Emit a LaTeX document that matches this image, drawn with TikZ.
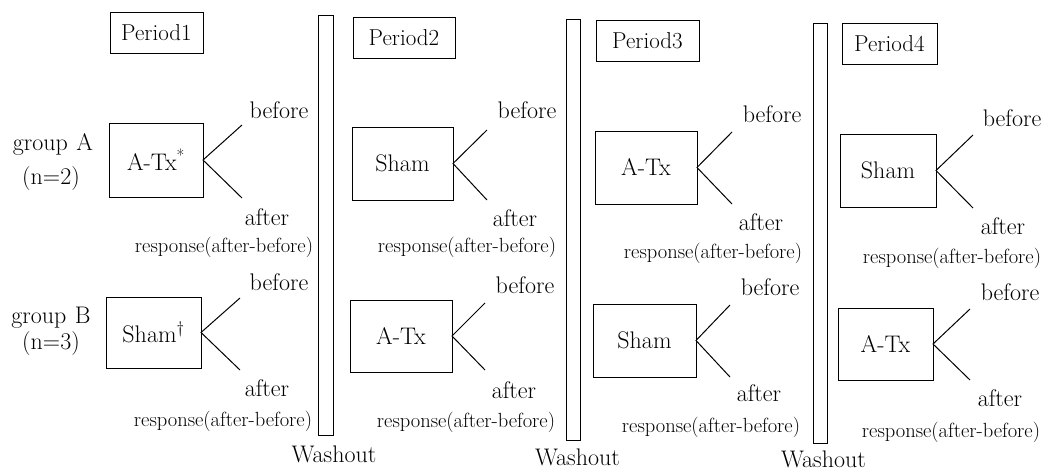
\documentclass[tikz,border=0pt]{standalone}
\begin{document}
\begin{tikzpicture}[x=1pt,y=-1pt,
  every node/.style={inner sep=0pt, outer sep=0pt},
  lbl/.style={font=\fontsize{24}{28}\selectfont, anchor=base},
  resp/.style={font=\fontsize{20.5}{24}\selectfont, anchor=base},
  periodbox/.style={draw, line width=1pt, font=\fontsize{23}{27}\selectfont, minimum height=41},
  txbox/.style={draw, line width=1pt, font=\fontsize{24}{28}\selectfont},
  washbar/.style={draw, line width=1pt, minimum width=14},
  branch/.style={line width=1pt}
]
\useasboundingbox (0,0) rectangle (1045,471);

% period headers
\node[periodbox, minimum width=93]  (P1) at (156.5,33)   {Period1};
\node[periodbox, minimum width=102] (P2) at (404,37.5)   {Period2};
\node[periodbox, minimum width=103] (P3) at (647.5,40.5) {Period3};
\node[periodbox, minimum width=95]  (P4) at (889.5,43.5) {Period4};

% group labels
\node[lbl] (gA)  at (53,150) {group\hspace{0.35em}A};
\node[lbl] (nA)  at (51,184) {(n=2)};
\node[lbl] (gB)  at (51,323) {group\hspace{0.35em}B};
\node[lbl] (nB)  at (51,349) {(n=3)};

% washout bars
\node[washbar, minimum width=15, minimum height=420] (W1) at (325.5,225) {};
\node[washbar, minimum height=421] (W2) at (573,229.5) {};
\node[washbar, minimum height=420] (W3) at (820,233) {};
\node[lbl] (W1t) at (334,462)   {Washout};
\node[lbl] (W2t) at (577.5,465) {Washout};
\node[lbl] (W3t) at (823.5,467) {Washout};

% treatment boxes
\node[txbox, minimum width=94,  minimum height=74] (A1) at (156,160)     {A-Tx\textsuperscript{*}};
\node[txbox, minimum width=95,  minimum height=71] (B1) at (153.5,332.5) {Sham\textsuperscript{\textdagger}};
\node[txbox, minimum width=101, minimum height=73] (A2) at (402.5,163.5) {Sham};
\node[txbox, minimum width=102, minimum height=72] (B2) at (401,336)     {A-Tx};
\node[txbox, minimum width=102, minimum height=73] (A3) at (646,167.5)   {A-Tx};
\node[txbox, minimum width=103, minimum height=73] (B3) at (644.5,340.5) {Sham};
\node[txbox, minimum width=96,  minimum height=73] (A4) at (888,170.5)   {Sham};
\node[txbox, minimum width=95,  minimum height=72] (B4) at (885.5,344)   {A-Tx};

% branch end points
\coordinate (A1u) at (242,125); \coordinate (A1d) at (242,198);
\coordinate (B1u) at (240,298); \coordinate (B1d) at (240,370);
\coordinate (A2u) at (487,130); \coordinate (A2d) at (487,200);
\coordinate (B2u) at (485,303); \coordinate (B2d) at (485,370);
\coordinate (A3u) at (732,132); \coordinate (A3d) at (732,204);
\coordinate (B3u) at (730,305); \coordinate (B3d) at (730,377);
\coordinate (A4u) at (973,135); \coordinate (A4d) at (973,208);
\coordinate (B4u) at (970,309); \coordinate (B4d) at (970,380);

\foreach \b in {A1,B1,A2,B2,A3,B3,A4,B4}{
  \draw[branch] (\b u) -- (\b.east) -- (\b d);
}

% before / after / response labels
\node[lbl]  at (279,118) {before};
\node[lbl]  at (267,225) {after};
\node[resp] at (224,252) {response(after-before)};
\node[lbl]  at (279,290) {before};
\node[lbl]  at (267,396) {after};
\node[resp] at (223,426) {response(after-before)};

\node[lbl]  at (527,118) {before};
\node[lbl]  at (515,226) {after};
\node[resp] at (467,252) {response(after-before)};
\node[lbl]  at (525,293) {before};
\node[lbl]  at (514,398) {after};
\node[resp] at (466,427) {response(after-before)};

\node[lbl]  at (772,122) {before};
\node[lbl]  at (761,230) {after};
\node[resp] at (713,258) {response(after-before)};
\node[lbl]  at (770,295) {before};
\node[lbl]  at (759,401) {after};
\node[resp] at (711,432) {response(after-before)};

\node[lbl]  at (1012,126) {before};
\node[lbl]  at (1003,234) {after};
\node[resp] at (952,263)  {response(after-before)};
\node[lbl]  at (1010,300) {before};
\node[lbl]  at (1000,406) {after};
\node[resp] at (951,437)  {response(after-before)};
\end{tikzpicture}
\end{document}
